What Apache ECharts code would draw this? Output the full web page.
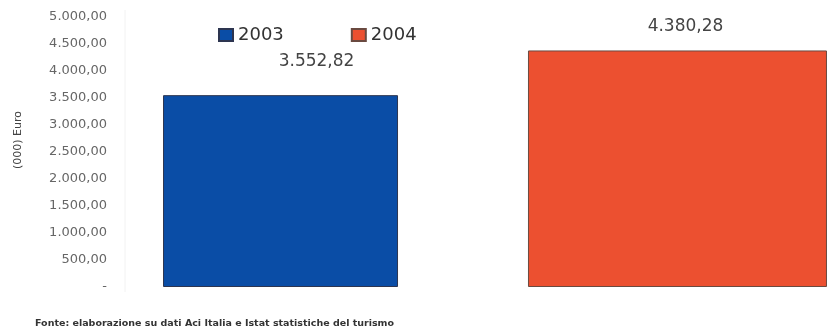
<!DOCTYPE html>
<html>
<head>
<meta charset="utf-8">
<script src="https://cdn.jsdelivr.net/npm/echarts@6/dist/echarts.min.js"></script>
<style>
html,body{margin:0;padding:0;background:#fff;}
#c{width:827px;height:336px;}
</style>
</head>
<body>
<div id="c"></div>
<script>
var seriesNames = ['2003', '2004'];
var values2003 = [3552.82];
var values2004 = [4380.28];
var categories = [''];
var yTicks = [0, 500, 1000, 1500, 2000, 2500, 3000, 3500, 4000, 4500, 5000];
var yAxisTitle = '(000) Euro';
var sourceNote = 'Fonte: elaborazione su dati Aci Italia e Istat statistiche del turismo';

function fmtIt(v) {
  if (v === 0) return '-';
  var parts = v.toFixed(2).split('.');
  var intPart = parts[0].replace(/\B(?=(\d{3})+(?!\d))/g, '.');
  return intPart + ',' + parts[1];
}

var chart = echarts.init(document.getElementById('c'));
chart.setOption({
  animation: false,
  backgroundColor: '#fff',
  grid: { left: 163, right: 0, top: 17, bottom: 49 },
  legend: {
    data: seriesNames,
    left: 213, top: 21,
    itemWidth: 14, itemHeight: 12, itemGap: 67,
    icon: 'rect',
    textStyle: { fontFamily: 'DejaVu Sans', fontSize: 18, color: '#333' }
  },
  graphic: [
    {
      type: 'text', left: 35, top: 319,
      style: { text: sourceNote, font: 'bold 9.5px "DejaVu Sans"', fill: '#333' }
    },
    {
      type: 'text', x: 18, y: 140, rotation: Math.PI / 2,
      style: { text: yAxisTitle, font: '11px "DejaVu Sans"', fill: '#444', textAlign: 'center', textVerticalAlign: 'middle' }
    },
    {
      type: 'line', shape: { x1: 125, y1: 10, x2: 125, y2: 292 },
      style: { stroke: '#f2f2f2', lineWidth: 1 }
    }
  ],
  xAxis: {
    type: 'category', data: categories,
    axisLine: { show: false }, axisTick: { show: false }, axisLabel: { show: false }
  },
  yAxis: {
    type: 'value', min: 0, max: 5000, interval: 500,
    axisLine: { show: false },
    axisTick: { show: false },
    splitLine: { show: false },
    axisLabel: {
      formatter: function (v) { return fmtIt(v); },
      fontFamily: 'DejaVu Sans', fontSize: 13, color: '#666', margin: 56
    }
  },
  series: [
    {
      name: seriesNames[0], type: 'bar', data: values2003,
      barWidth: 235, barGap: '55.3%',
      itemStyle: { color: '#0a4da6', borderColor: '#2d3550', borderWidth: 1 },
      label: {
        show: true, position: 'top', distance: 25, offset: [36, 0],
        formatter: function (p) { return fmtIt(p.value); },
        fontFamily: 'DejaVu Sans', fontSize: 17, color: '#444'
      }
    },
    {
      name: seriesNames[1], type: 'bar', data: values2004,
      barWidth: 299,
      itemStyle: { color: '#ec5030', borderColor: '#6a4a40', borderWidth: 1 },
      label: {
        show: true, position: 'top', distance: 15, offset: [8, 0],
        formatter: function (p) { return fmtIt(p.value); },
        fontFamily: 'DejaVu Sans', fontSize: 17, color: '#444'
      }
    }
  ]
});
</script>
</body>
</html>
